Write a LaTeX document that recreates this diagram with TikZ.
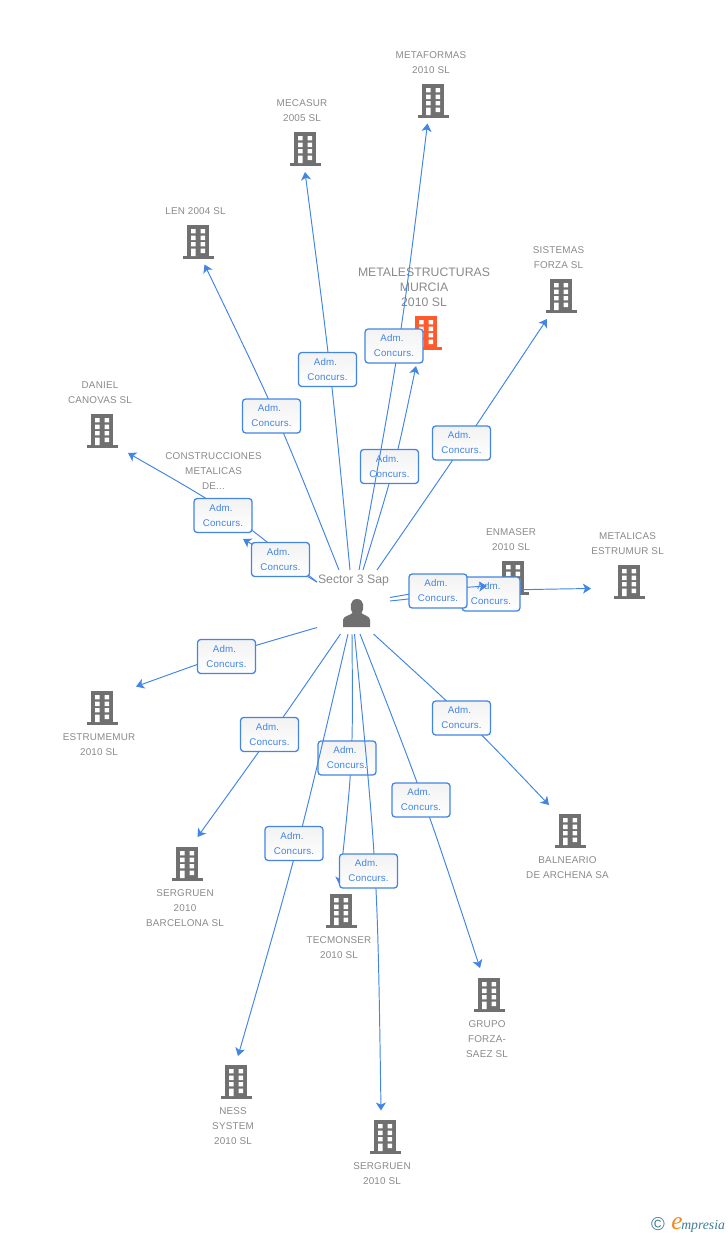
\documentclass[tikz,border=0pt]{standalone}
\usepackage{fontspec}
\setmainfont{Liberation Sans}
\newfontfamily\lblfont[LetterSpace=2]{Liberation Sans}
\newfontfamily\logofont{Liberation Serif}
\usetikzlibrary{arrows.meta,shadings}
\definecolor{lblgray}{HTML}{8A8A8A}
\definecolor{bldgray}{HTML}{707070}
\definecolor{bldorange}{HTML}{FF5A2B}
\definecolor{linkblue}{HTML}{4285E4}
\definecolor{logoteal}{HTML}{3E7C96}
\definecolor{logoorange}{HTML}{F08A1D}
\tikzset{
  conn/.style={draw=linkblue,line width=0.72pt,-{Stealth[length=6pt,width=7.5pt,inset=1.6pt]}},
  adm/.style={draw=linkblue,line width=0.95pt,rounded corners=2.4pt,top color=black!5,bottom color=white,
    text=linkblue,minimum width=43.5pt,minimum height=25.5pt,inner sep=0pt,align=center,
    font=\lblfont\fontsize{7.3}{11.25}\selectfont},
  lbl/.style={text=lblgray,align=center,inner sep=0pt,font=\lblfont\fontsize{7.4}{11.25}\selectfont},
  lblbig/.style={text=lblgray,align=center,inner sep=0pt,font=\fontsize{9.2}{11.25}\selectfont},
  bldgbox/.style={minimum width=23pt,minimum height=25pt,inner sep=0pt},
}
\newcommand{\bld}[4]{%
  \node[bldgbox] (#1) at (#2,#3) {};
  \begin{scope}[shift={(#1.center)}]
    \fill[#4] (-11,-17) rectangle (11,15);
    \fill[#4] (-15,14) rectangle (16,17);
    \fill[white] (-7,-13) rectangle (-2.4,-8.6) (2.6,-13) rectangle (7.2,-8.6)
      (-7,-6.4) rectangle (-2.4,-2) (2.6,-6.4) rectangle (7.2,-2)
      (-7,0) rectangle (-2.4,4.4) (2.6,0) rectangle (7.2,4.4)
      (-7,6.5) rectangle (-2.4,14) (2.6,6.5) rectangle (7.2,11);
  \end{scope}}
\newcommand{\adm}[3]{\node[adm] (#1) at (#2,#3) {Adm.\hspace*{3pt}\\Concurs.};}
\begin{document}
\begin{tikzpicture}[x=0.75pt,y=-0.75pt]
\useasboundingbox (0,0) rectangle (728,1235);
% buildings
\bld{metaformas}{433}{101}{bldgray}
\bld{mecasur}{305}{149}{bldgray}
\bld{len}{198}{242}{bldgray}
\bld{metalestr}{426}{333}{bldorange}
\bld{sistemas}{561}{296}{bldgray}
\bld{daniel}{102}{431}{bldgray}
\bld{construcc}{215}{516}{bldgray}
\bld{enmaser}{513}{578}{bldgray}
\bld{metalicas}{629}{582}{bldgray}
\bld{estrumemur}{102}{708}{bldgray}
\bld{sergruenb}{187}{864}{bldgray}
\bld{tecmonser}{341}{911}{bldgray}
\bld{ness}{236}{1082}{bldgray}
\bld{sergruen}{385}{1137}{bldgray}
\bld{grupo}{489}{995}{bldgray}
\bld{balneario}{570}{831}{bldgray}
% labels
\node[lbl] (lmetaformas) at (431,63) {METAFORMAS\\2010 SL};
\node[lbl] (lmecasur) at (302,110.5) {MECASUR\\2005 SL};
\node[lbl] (llen) at (195.5,211) {LEN 2004 SL};
\node[lblbig] (lmetalestr) at (424,287) {METALESTRUCTURAS\\MURCIA\\2010 SL};
\node[lbl] (lsistemas) at (558.5,258) {SISTEMAS\\FORZA SL};
\node[lbl] (ldaniel) at (100,392.5) {DANIEL\\CANOVAS SL};
\node[lbl] (lconstrucc) at (213.5,471.5) {CONSTRUCCIONES\\METALICAS\\DE...};
\node[lbl] (lenmaser) at (511,540) {ENMASER\\2010 SL};
\node[lbl] (lmetalicas) at (627.5,543.5) {METALICAS\\ESTRUMUR SL};
\node[lbl] (lestrumemur) at (99,745) {ESTRUMEMUR\\2010 SL};
\node[lbl] (lsergruenb) at (185,908) {SERGRUEN\\2010\\BARCELONA SL};
\node[lbl] (ltecmonser) at (339,947.5) {TECMONSER\\2010 SL};
\node[lbl] (lness) at (233,1126) {NESS\\SYSTEM\\2010 SL};
\node[lbl] (lsergruen) at (382,1173.5) {SERGRUEN\\2010 SL};
\node[lbl] (lgrupo) at (487,1039) {GRUPO\\FORZA-\\SAEZ SL};
\node[lbl] (lbalneario) at (567.5,867.5) {BALNEARIO\\DE ARCHENA SA};
% central person
\node[lblbig] (hublabel) at (353.5,580) {Sector 3 Sap};
\node[inner sep=0pt,minimum width=21pt,minimum height=21pt] (hub) at (356.5,612.5) {};
\fill[bldgray] (343,627) -- (343,620) .. controls (343,616) and (350,615.5) .. (352.5,613)
  .. controls (349.5,609) and (349.5,599) .. (357,599) .. controls (364.5,599) and (364.5,609) .. (361.5,613)
  .. controls (364,615.5) and (370,616) .. (370,620) -- (370,627) -- cycle;
% connector ends and bend points
\coordinate (s1) at (359,570); \coordinate (c1) at (400,346.5); \coordinate (t1) at (427.5,123.5);
\coordinate (s2) at (350,570); \coordinate (c2) at (331,371); \coordinate (t2) at (305,172);
\coordinate (s3) at (339,570); \coordinate (c3) at (278,417); \coordinate (t3) at (204.5,264.5);
\coordinate (s4) at (363,570); \coordinate (c4) at (394.5,468); \coordinate (t4) at (416,366);
\coordinate (s5) at (377,570); \coordinate (c5) at (464,444); \coordinate (t5) at (547,319);
\coordinate (s6) at (317,582); \coordinate (c6) at (227.7,509.9); \coordinate (t6) at (128,453);
\coordinate (s7) at (317,582); \coordinate (t7) at (243,539);
\coordinate (s8) at (390,597.5); \coordinate (c8) at (438.5,589); \coordinate (t8) at (487,586);
\coordinate (s9) at (390,601); \coordinate (c9) at (490.5,590); \coordinate (t9) at (591,588.5);
\coordinate (s10) at (317,627.5); \coordinate (c10) at (226,654); \coordinate (t10) at (136,686.5);
\coordinate (s11) at (340.5,634); \coordinate (c11) at (271,735); \coordinate (t11) at (197.5,837);
\coordinate (s12) at (352,634); \coordinate (c12) at (353,759.5); \coordinate (t12) at (339.5,885);
\coordinate (s13) at (354.5,634); \coordinate (c13) at (377.5,872); \coordinate (t13) at (381,1110.5);
\coordinate (s14) at (348,634); \coordinate (c14) at (299,845); \coordinate (t14) at (238,1056);
\coordinate (s15) at (360,634); \coordinate (c15) at (425,801); \coordinate (t15) at (480,968);
\coordinate (s16) at (373.5,634); \coordinate (c16) at (470,722); \coordinate (t16) at (549,805);
% connectors and their boxes, back to front
\draw[conn] (s4) .. controls (c4) .. (t4); \adm{a4}{389.5}{466.5}
\draw[conn] (s1) .. controls (c1) .. (t1); \adm{a1}{394}{346}
\draw[conn] (s2) .. controls (c2) .. (t2); \adm{a2}{327.5}{369.5}
\draw[conn] (s3) .. controls (c3) .. (t3); \adm{a3}{271.5}{416}
\draw[conn] (s5) .. controls (c5) .. (t5); \adm{a5}{461.5}{443}
\draw[conn] (s6) .. controls (c6) .. (t6); \adm{a6}{223}{515.5}
\draw[conn] (s7) -- (t7); \adm{a7}{280.5}{559.5}
\draw[conn] (s9) .. controls (c9) .. (t9); \adm{a9}{491}{594}
\draw[conn] (s8) .. controls (c8) .. (t8); \adm{a8}{438}{591}
\draw[conn] (s10) .. controls (c10) .. (t10); \adm{a10}{226.5}{656.5}
\draw[conn] (s11) .. controls (c11) .. (t11); \adm{a11}{269.5}{734.5}
\draw[conn] (s12) .. controls (c12) .. (t12); \adm{a12}{347}{758}
\draw[conn] (s13) .. controls (c13) .. (t13); \adm{a13}{368.5}{871}
\draw[conn] (s14) .. controls (c14) .. (t14); \adm{a14}{294}{843.5}
\draw[conn] (s15) .. controls (c15) .. (t15); \adm{a15}{421}{800}
\draw[conn] (s16) .. controls (c16) .. (t16); \adm{a16}{461.5}{718}
% logo
\node[inner sep=0pt,text=logoteal,font=\fontsize{14}{14}\selectfont] (logoc) at (658,1224) {©};
\node[inner sep=0pt,anchor=base west,text=logoorange,font=\logofont\itshape\fontsize{19}{19}\selectfont] (logoe) at (671,1229) {e};
\node[inner sep=0pt,anchor=base west,text=logoteal,font=\logofont\itshape\fontsize{10.3}{10}\selectfont] (logot) at (681,1229) {mpresia};
\end{tikzpicture}
\end{document}
